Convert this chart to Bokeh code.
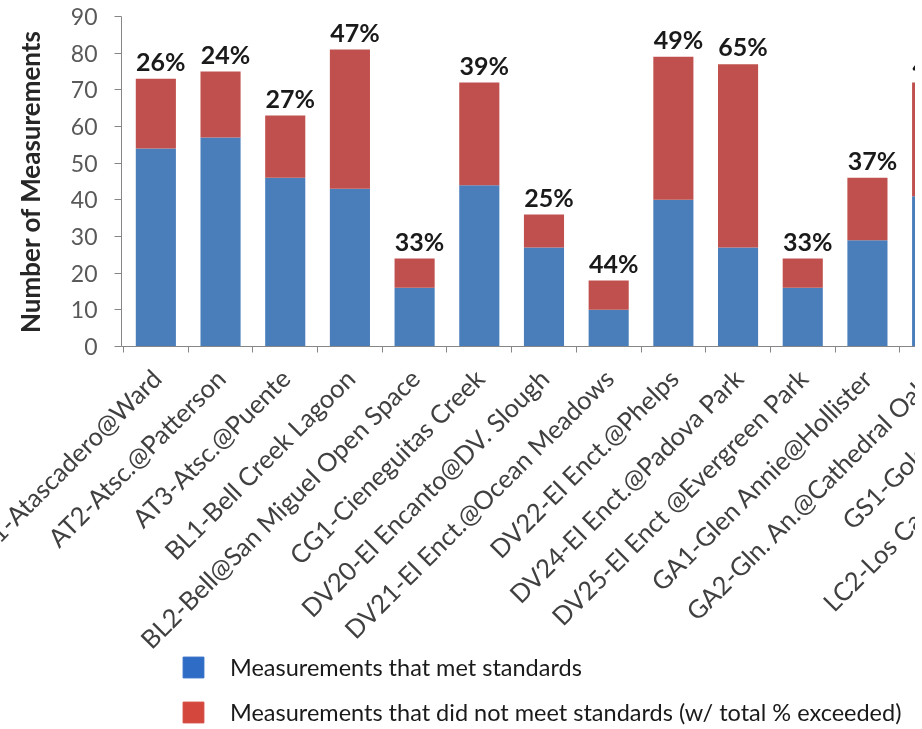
import math
from bokeh.plotting import figure
from bokeh.layouts import column
from bokeh.models import (FixedTicker, Range1d, ColumnDataSource, Legend, LegendItem)
from bokeh.core.properties import value
from bokeh.embed import file_html
from bokeh.resources import INLINE

# ---- data ----
sites = ["AT1-Atascadero@Ward", "AT2-Atsc.@Patterson", "AT3-Atsc.@Puente",
         "BL1-Bell Creek Lagoon", "BL2-Bell@San Miguel Open Space",
         "CG1-Cieneguitas Creek", "DV20-El Encanto@DV. Slough",
         "DV21-El Enct.@Ocean Meadows", "DV22-El Enct.@Phelps",
         "DV24-El Enct.@Padova Park", "DV25-El Enct @Evergreen Park",
         "GA1-Glen Annie@Hollister", "GA2-Gln. An.@Cathedral Oaks",
         "GS1-Goleta Slough", "LC2-Los Carneros@Calle Real"]
met = [54, 57, 46, 43, 16, 44, 27, 10, 40, 27, 16, 29, 41]
not_met = [19, 18, 17, 38, 8, 28, 9, 8, 39, 50, 8, 17, 31]
pct_labels = ["26%", "24%", "27%", "47%", "33%", "39%", "25%", "44%",
              "49%", "65%", "33%", "37%", "43%"]
y_ticks = [0, 10, 20, 30, 40, 50, 60, 70, 80, 90]
legend_labels = ["Measurements that met standards",
                 "Measurements that did not meet standards (w/ total % exceeded)"]

BLUE = "#4A7EBB"
RED = "#C0504D"
LEG_BLUE = "#2F6CC6"
LEG_RED = "#D4473D"
FONT = "Lato"
SHIFT = 40            # canvas starts this far left of the window
W = 1110
LEFT = 121 + SHIFT

xs = list(range(len(met)))
totals = [m + n for m, n in zip(met, not_met)]
source = ColumnDataSource(dict(x=xs, met=met, not_met=not_met,
                               total=totals, pct=pct_labels))

p = figure(width=W, height=696, output_backend="svg", toolbar_location=None,
           x_range=Range1d(-0.531, 14.139), y_range=Range1d(0, 90),
           min_border_left=LEFT, min_border_right=0, min_border_top=16,
           min_border_bottom=350)
p.outline_line_color = None
p.xgrid.visible = False
p.ygrid.visible = False
p.border_fill_color = "white"

rs = p.vbar_stack(["met", "not_met"], x="x", width=0.62, color=[BLUE, RED],
                  line_color=None, source=source)

p.text(x="x", y="total", text="pct", source=source, text_align="center",
       text_baseline="bottom", x_offset=5, y_offset=-3,
       text_font=value(FONT), text_font_style="bold", text_font_size="25px",
       text_color="#1a1a1a")

# x axis
xa = p.xaxis[0]
xa.ticker = FixedTicker(ticks=list(range(len(sites))),
                        minor_ticks=[i - 0.5 for i in range(len(sites) + 1)])
xa.major_label_overrides = {i: s for i, s in enumerate(sites)}
xa.major_label_orientation = math.pi / 4
xa.major_tick_out = 0
xa.major_tick_in = 0
xa.minor_tick_out = 6
xa.minor_tick_in = 0
xa.axis_line_color = "#868686"
xa.minor_tick_line_color = "#868686"
xa.major_label_text_font = FONT
xa.major_label_text_font_size = "25.5px"
xa.major_label_text_color = "#404040"
xa.major_label_standoff = 21

# y axis
ya = p.yaxis[0]
ya.ticker = FixedTicker(ticks=y_ticks)
ya.axis_line_color = "#868686"
ya.major_tick_line_color = "#868686"
ya.major_tick_out = 7
ya.major_tick_in = 0
ya.minor_tick_line_color = None
ya.major_label_text_font = FONT
ya.major_label_text_font_size = "23px"
ya.major_label_text_color = "#595959"
ya.major_label_standoff = 17
ya.axis_label = "Number of Measurements"
ya.axis_label_text_font = FONT
ya.axis_label_text_font_style = "bold"
ya.axis_label_text_font_size = "26px"
ya.axis_label_text_color = "#262626"
ya.axis_label_standoff = 22

# legend strip below the chart (transparent, overlapping the empty bottom of p)
p2 = figure(width=W, height=73, output_backend="svg", toolbar_location=None,
            x_range=Range1d(0, 1), y_range=Range1d(0, 1),
            min_border_left=LEFT, min_border_right=0, min_border_top=0,
            min_border_bottom=0)
p2.axis.visible = False
p2.grid.visible = False
p2.outline_line_color = None
p2.border_fill_alpha = 0
p2.background_fill_alpha = 0
p2.margin = (656 - 696, 0, 0, 0)
# legend swatches: glyphs placed outside the visible range, only their legend shows
dummy = ColumnDataSource(dict(x=[5], top=[1]))
l1 = p2.vbar(x="x", top="top", width=0.5, color=LEG_BLUE, source=dummy)
l2 = p2.vbar(x="x", top="top", width=0.5, color=LEG_RED, source=dummy)
legend = Legend(items=[LegendItem(label=legend_labels[0], renderers=[l1]),
                       LegendItem(label=legend_labels[1], renderers=[l2])],
                location=(59, 3), orientation="vertical")
legend.glyph_width = 26
legend.glyph_height = 26
legend.label_height = 26
legend.label_text_font = FONT
legend.label_text_font_size = "23.5px"
legend.label_text_color = "#1a1a1a"
legend.label_standoff = 24
legend.spacing = 17
legend.padding = 0
legend.margin = 0
legend.border_line_color = None
legend.background_fill_alpha = 0
p2.add_layout(legend)

layout = column(p, p2, spacing=0,
                styles={"position": "fixed", "left": "-%dpx" % SHIFT, "top": "0px",
                        "clip-path": "inset(0px %dpx 0px 0px)" % (W - SHIFT - 915)})

open("out.html", "w").write(file_html(layout, INLINE))
